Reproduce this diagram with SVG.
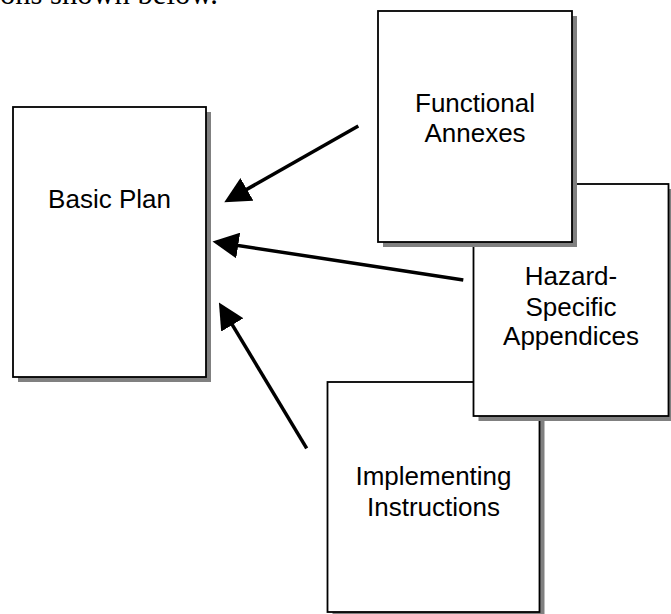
<svg xmlns="http://www.w3.org/2000/svg" width="671" height="614" viewBox="0 0 671 614">
<style>
.shadow{fill:#808080;stroke:none}
.box{fill:#ffffff;stroke:#000000;stroke-width:1.8}
.lbl{font-family:"Liberation Sans",Arial,sans-serif;font-size:26px;fill:#000000;text-anchor:middle}
.conn{stroke:#000000;stroke-width:3.5;fill:none;marker-end:url(#ah)}
.body{font-family:"Liberation Serif","Times New Roman",serif;font-size:30.6px;fill:#000000}
</style>
<defs>
<marker id="ah" markerUnits="userSpaceOnUse" markerWidth="26" markerHeight="26" viewBox="0 0 24 24" refX="14" refY="12" orient="auto">
<path d="M0,0 L24,12 L0,24 z" fill="#000000"/>
</marker>
</defs>
<rect width="671" height="614" fill="#ffffff"/>
<text class="body" x="218" y="3.5" text-anchor="end">ons shown below.</text>
<g id="basic-plan">
<rect class="shadow" x="18" y="112" width="193" height="270"/>
<rect class="box" x="13" y="107" width="193" height="270"/>
<text class="lbl" x="109.5" y="208">Basic Plan</text>
</g>
<g id="implementing-instructions">
<rect class="shadow" x="332.5" y="387" width="212" height="230"/>
<rect class="box" x="327.5" y="382" width="212" height="230"/>
<text class="lbl" x="433.5" y="485">Implementing</text>
<text class="lbl" x="433.5" y="516">Instructions</text>
</g>
<g id="hazard-specific-appendices">
<rect class="shadow" x="478.5" y="189" width="195" height="232"/>
<rect class="box" x="473.5" y="184" width="195" height="232"/>
<text class="lbl" x="571" y="285">Hazard-</text>
<text class="lbl" x="571" y="315.5">Specific</text>
<text class="lbl" x="571" y="345">Appendices</text>
</g>
<g id="functional-annexes">
<rect class="shadow" x="383" y="16" width="194" height="231"/>
<rect class="box" x="378" y="11" width="194" height="231"/>
<text class="lbl" x="475" y="111.5">Functional</text>
<text class="lbl" x="475" y="141.5">Annexes</text>
</g>
<g id="connectors">
<line class="conn" x1="358.3" y1="126" x2="233.7" y2="196.8"/>
<line class="conn" x1="463.3" y1="280" x2="223.2" y2="243.2"/>
<line class="conn" x1="306.7" y1="448.3" x2="224.5" y2="311.9"/>
</g>
</svg>
